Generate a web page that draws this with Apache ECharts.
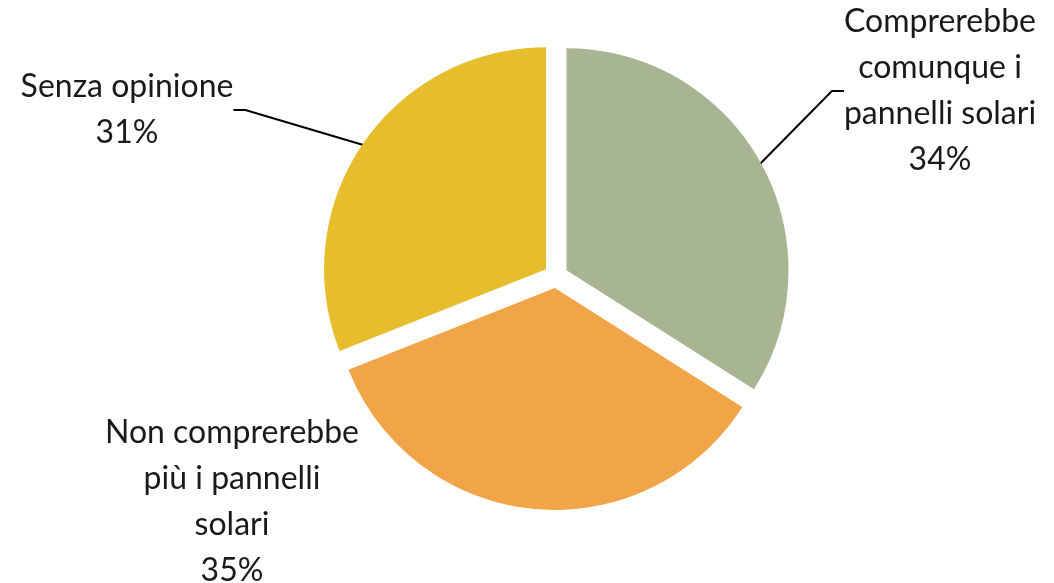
<!DOCTYPE html>
<html><head><meta charset="utf-8">
<script src="https://cdn.jsdelivr.net/npm/echarts@6/dist/echarts.min.js"></script>
<style>html,body{margin:0;padding:0;background:#fff}#c{width:1054px;height:583px}</style>
</head><body><div id="c"></div>
<script>
const categories = ['Comprerebbe\ncomunque i\npannelli solari', 'Non comprerebbe\npiù i pannelli\nsolari', 'Senza opinione'];
const values = [34, 35, 31];
const colors = ['#A7B592', '#F2A548', '#E6BD2C'];
const labelPos = [[940, 91], [232, 502], [127, 110]];

const chart = echarts.init(document.getElementById('c'));
chart.setOption({
  backgroundColor: '#fff',
  animation: false,
  series: [{
    type: 'pie',
    center: [556, 276],
    radius: [0, 222],
    startAngle: 90,
    clockwise: true,
    selectedMode: 'multiple',
    selectedOffset: 12,
    label: { show: false },
    labelLine: { show: false },
    emphasis: { disabled: true },
    data: categories.map((n, i) => ({
      name: n, value: values[i], selected: true,
      itemStyle: { color: colors[i] }
    }))
  }, {
    type: 'pie',
    center: [556, 276],
    radius: [0, 233],
    startAngle: 90,
    clockwise: true,
    silent: true,
    avoidLabelOverlap: false,
    selectedMode: false,
    emphasis: { disabled: true },
    data: categories.map((n, i) => ({
      name: n, value: values[i],
      itemStyle: { color: 'rgba(0,0,0,0)' },
      labelLine: { show: i !== 1 }
    })),
    label: {
      show: true,
      position: 'outside',
      alignTo: 'none',
      formatter: '{b}\n{d}%',
      fontFamily: 'Lato, "Open Sans", sans-serif',
      fontSize: 32,
      lineHeight: 46,
      color: '#1a1a1a',
      align: 'center'
    },
    labelLine: { show: true, length: 20, length2: 12, lineStyle: { color: '#000', width: 2 } },
    labelLayout: function (p) {
      return { x: labelPos[p.dataIndex][0], y: labelPos[p.dataIndex][1], align: 'center', verticalAlign: 'middle' };
    }
  }]
});
</script></body></html>
